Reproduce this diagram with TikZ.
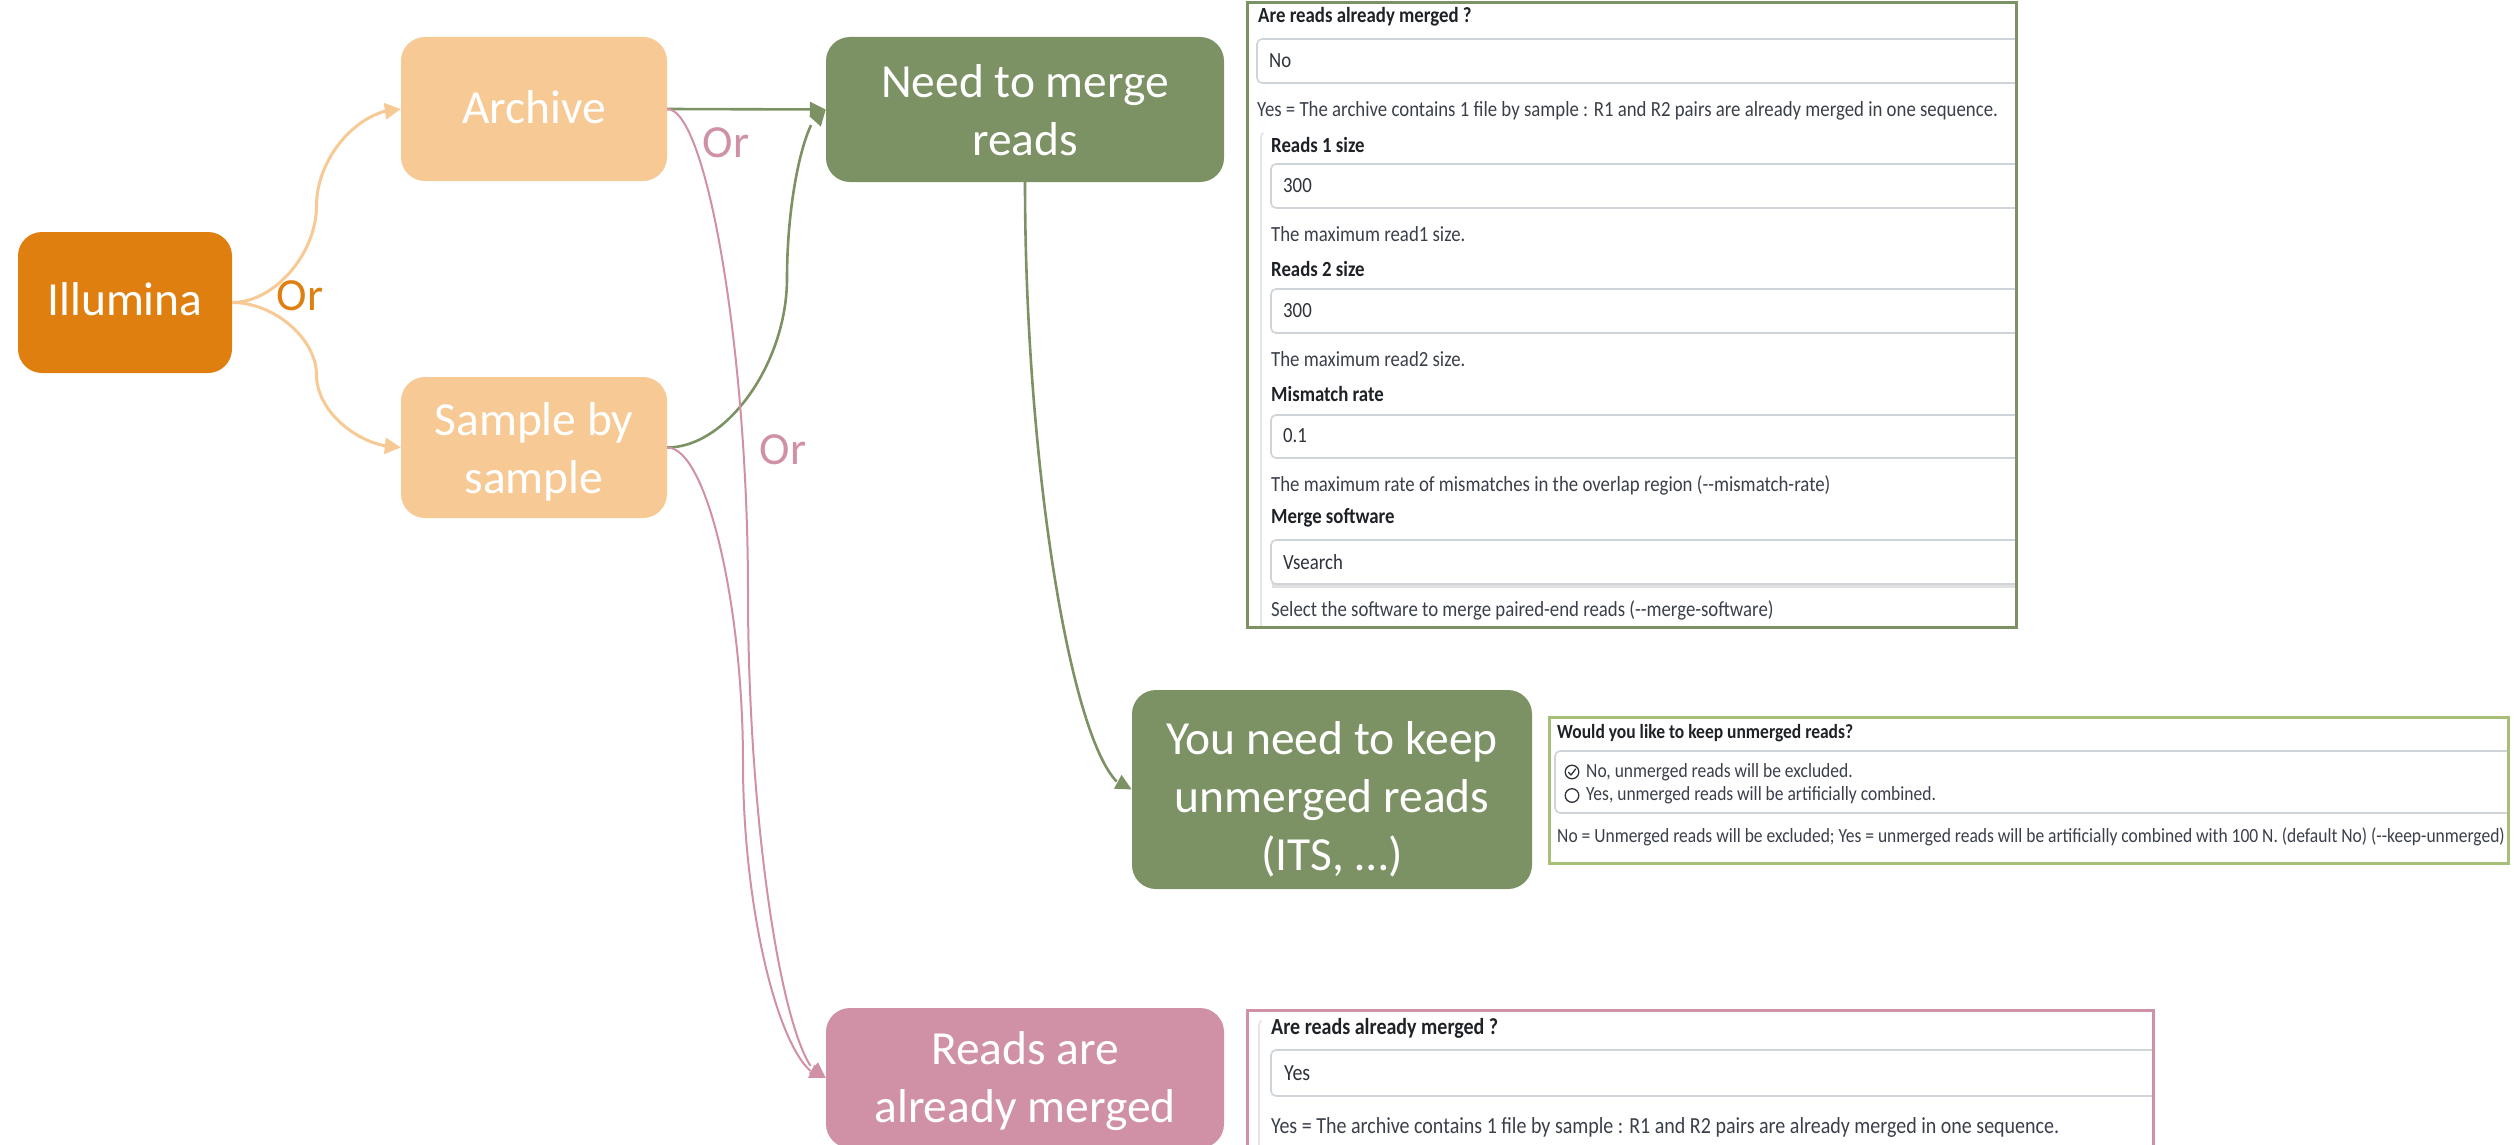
\documentclass[tikz,border=0pt]{standalone}
\usepackage{fontspec}
\setmainfont{Carlito}
\usetikzlibrary{arrows.meta,bending}
\definecolor{cIll}{HTML}{DF7F10}
\definecolor{cLor}{HTML}{F7C994}
\definecolor{cGreen}{HTML}{7D9264}
\definecolor{cPink}{HTML}{D091A6}
\definecolor{cP2}{HTML}{A8BF78}
\definecolor{cHead}{HTML}{1E2126}
\definecolor{cDesc}{HTML}{3A3F4A}
\definecolor{cVal}{HTML}{2E323A}
\definecolor{cIn}{HTML}{CED4DA}
\definecolor{cGrp}{HTML}{E4E6E9}
\newcommand{\ftx}[2]{\raisebox{#1}[\height][\depth]{\begin{tabular}{@{}c@{}}#2\end{tabular}}}
\newcommand{\vs}[1]{\scalebox{1}[1.15]{#1}}
\tikzset{
  flow/.style={rounded corners=24pt, text=white, inner sep=0pt,
    font=\fontsize{47.5}{58}\selectfont},
  ore/.style={draw=cLor, line width=3pt, -{Triangle[length=16pt,width=16pt,flex]}},
  gre/.style={draw=cGreen, line width=2.6pt, -{Triangle[length=16pt,width=15pt,flex]}},
  pke/.style={draw=cPink, line width=2pt, -{Triangle[length=16pt,width=14pt,flex]}},
  orlab/.style={inner sep=0pt, font=\fontsize{46}{50}\selectfont},
  ptext/.style={anchor=west, inner sep=0pt},
  h1/.style={ptext, text=cHead, font=\bfseries\fontsize{18.8}{22}\selectfont},
  d1/.style={ptext, text=cDesc, font=\fontsize{18.8}{22}\selectfont},
  v1/.style={ptext, text=cVal, font=\fontsize{18.8}{22}\selectfont},
  h2/.style={ptext, text=cHead, font=\bfseries\fontsize{17.5}{21}\selectfont},
  d2/.style={ptext, text=cDesc, font=\fontsize{17.5}{21}\selectfont},
  h3/.style={ptext, text=cHead, font=\bfseries\fontsize{20}{24}\selectfont},
  d3/.style={ptext, text=cDesc, font=\fontsize{20}{24}\selectfont},
  inbox/.style={draw=cIn, line width=1.6pt, rounded corners=5pt, fill=white},
  grp/.style={draw=cGrp, line width=2pt, rounded corners=8pt},
  radio/.style={draw=cVal, line width=1.3pt},
}
\begin{document}
\begin{tikzpicture}[x=1pt,y=-1pt]
\useasboundingbox (0,0) rectangle (2514,1145);
\clip (0,0) rectangle (2514,1145);

% ---------------- flow nodes ----------------
\node[flow, fill=cIll, minimum width=214pt, minimum height=141pt] (ill) at (125,302.5) {\ftx{-1pt}{Illumina}};
\node[flow, fill=cLor, minimum width=266pt, minimum height=144pt] (arch) at (534,109) {\ftx{-3pt}{Archive}};
\node[flow, fill=cLor, minimum width=266pt, minimum height=141pt] (samp) at (534,447.5) {\ftx{-5pt}{Sample by\\sample}};
\node[flow, fill=cGreen, minimum width=398pt, minimum height=145pt] (need) at (1025,109.5) {\ftx{-5pt}{Need to merge\\reads}};
\node[flow, fill=cGreen, minimum width=400pt, minimum height=199pt] (keep) at (1332,789.5) {\ftx{-11pt}{You need to keep\\unmerged reads\\(ITS, …)}};
\node[flow, fill=cPink, minimum width=398pt, minimum height=140pt] (merged) at (1025,1078) {\ftx{-4pt}{Reads are\\already merged}};

% ---------------- connectors ----------------
\draw[ore] (ill.east) .. controls (274.25,302.5) and (316.5,253.75) .. (316.5,205.75)
  .. controls (316.5,157.4) and (358.75,109) .. (arch.west);
\draw[ore] (ill.east) .. controls (274.25,302.5) and (316.5,338.75) .. (316.5,375)
  .. controls (316.5,411.25) and (358.75,447.5) .. (samp.west);
\draw[gre] (arch.east) -- (need.west);
\draw[gre] (samp.east) .. controls (727,447.5) and (787,362.9) .. (787,278.25)
  .. controls (787,193.6) and (806.5,109.5) .. (need.west);
\draw[gre] (need.south) .. controls (1025,486) and (1078.5,789.5) .. (keep.west);
\draw[pke] (arch.east) .. controls (706.75,109) and (748,351.25) .. (748,593.5)
  .. controls (748,835.75) and (787,1078) .. (merged.west);
\draw[pke] (samp.east) .. controls (706.75,447.5) and (743,605.1) .. (743,762.75)
  .. controls (743,920.4) and (784.5,1078) .. (merged.west);

\node[orlab, text=cIll] (or1) at (300,296) {Or};
\node[orlab, text=cPink] (or2) at (726,143) {Or};
\node[orlab, text=cPink] (or3) at (783,450) {Or};

% ---------------- panel 1 ----------------
\begin{scope}
\clip (1247,3) rectangle (2016,627);
\draw[inbox] (1257,39) rectangle (2040,83);
\draw[grp] (1261,660) -- (1261,130) -- (1290,130);
\fill[white] (1263,128) rectangle (1300,133);
\draw[inbox] (1271,164) rectangle (2040,208);
\draw[inbox] (1271,289) rectangle (2040,333);
\draw[inbox] (1271,415) rectangle (2040,458);
\fill[black!12] (1272,543) rectangle (2040,588);
\draw[inbox] (1271,540) rectangle (2040,584);
\end{scope}
\draw[draw=cGreen, line width=3pt] (1247,3) rectangle (2016,627);
\node[h1] (p1h) at (1258,17) {\vs{Are reads already merged ?}};
\node[v1] (p1v) at (1269,61) {\vs{No}};
\node[d1] (p1d) at (1257,111) {\vs{Yes = The archive contains 1 file by sample : R1 and R2 pairs are already merged in one sequence.}};
\node[h1] (r1h) at (1271,145) {\vs{Reads 1 size}};
\node[v1] (r1v) at (1283,186) {\vs{300}};
\node[d1] (r1d) at (1271,234) {\vs{The maximum read1 size.}};
\node[h1] (r2h) at (1271,269) {\vs{Reads 2 size}};
\node[v1] (r2v) at (1283,311) {\vs{300}};
\node[d1] (r2d) at (1271,359) {\vs{The maximum read2 size.}};
\node[h1] (mmh) at (1271,394) {\vs{Mismatch rate}};
\node[v1] (mmv) at (1283,436) {\vs{0.1}};
\node[d1] (mmd) at (1271,485) {\vs{The maximum rate of mismatches in the overlap region (-{}-mismatch-rate)}};
\node[h1] (msh) at (1271,518) {\vs{Merge software}};
\node[v1] (msv) at (1283,562) {\vs{Vsearch}};
\node[d1] (msd) at (1271,610) {\vs{Select the software to merge paired-end reads (-{}-merge-software)}};

% ---------------- panel 2 ----------------
\begin{scope}
\clip (1549,717) rectangle (2508,863);
\draw[inbox] (1555,751) rectangle (2530,813);
\end{scope}
\draw[draw=cP2, line width=3pt] (1549,717) rectangle (2508,863);
\node[h2] (p2h) at (1557,733) {\vs{Would you like to keep unmerged reads?}};
\draw[radio] (1572,772) circle (6.8pt);
\draw[radio, line cap=round, line join=round] (1568.6,772.4) -- (1571,775) -- (1575.6,769);
\draw[radio] (1572,795.5) circle (6.8pt);
\node[d2] (p2a) at (1586,772) {\vs{No, unmerged reads will be excluded.}};
\node[d2] (p2b) at (1586,795.5) {\vs{Yes, unmerged reads will be artificially combined.}};
\node[d2] (p2d) at (1557,837) {\vs{No = Unmerged reads will be excluded; Yes = unmerged reads will be artificially combined with 100 N. (default No) (-{}-keep-unmerged)}};

% ---------------- panel 3 ----------------
\begin{scope}
\clip (1247,1010) rectangle (2153,1170);
\draw[grp] (1259,1170) -- (1259,1018) -- (1290,1018);
\fill[white] (1261,1016) rectangle (1300,1021);
\draw[inbox] (1271,1050) rectangle (2180,1096);
\end{scope}
\draw[draw=cPink, line width=3pt] (1247,1010) rectangle (2153,1170);
\node[h3] (p3h) at (1271,1028) {\vs{Are reads already merged ?}};
\node[v1, font=\fontsize{20}{24}\selectfont] (p3v) at (1284,1073) {\vs{Yes}};
\node[d3] (p3d) at (1271,1127) {\vs{Yes = The archive contains 1 file by sample : R1 and R2 pairs are already merged in one sequence.}};
\end{tikzpicture}
\end{document}
